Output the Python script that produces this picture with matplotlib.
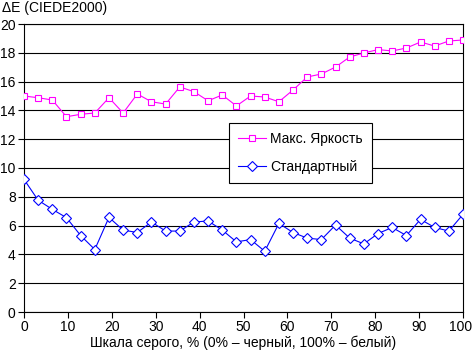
import numpy as np
import matplotlib.pyplot as plt
import matplotlib.transforms as mtransforms

plt.rcParams["font.family"] = ["Liberation Sans", "DejaVu Sans"]

# gray levels 0..100 %, 32 steps
gray = np.linspace(0, 100, 32)

max_bright = [15.0, 14.88, 14.72, 13.56, 13.73, 13.82, 14.88, 13.82, 15.14, 14.6,
              14.44, 15.63, 15.3, 14.67, 15.07, 14.31, 15.0, 14.93, 14.6, 15.42,
              16.32, 16.53, 17.01, 17.71, 17.99, 18.22, 18.13, 18.33, 18.75, 18.47,
              18.82, 18.89]
standard = [9.21, 7.76, 7.13, 6.55, 5.31, 4.34, 6.57, 5.69, 5.52, 6.25,
            5.62, 5.62, 6.25, 6.32, 5.69, 4.87, 5.03, 4.22, 6.15, 5.52,
            5.13, 5.03, 6.04, 5.13, 4.73, 5.45, 5.87, 5.31, 6.43, 5.87,
            5.62, 6.78]

fig = plt.figure(figsize=(4.73, 3.53), dpi=100)
ax = fig.add_axes([24 / 473, 1 - 312 / 353, 439 / 473, 288 / 353])

ax.plot(gray, max_bright, color="#FF00FF", lw=0.8, marker="s", ms=5,
        mfc="white", mec="#FF00FF", mew=0.8, label="Макс. Яркость", zorder=3)
ax.plot(gray, standard, color="#0000FF", lw=0.8, marker="D", ms=5,
        mfc="white", mec="#0000FF", mew=0.8, label="Стандартный", zorder=3)

ax.set_xlim(0, 100)
ax.set_ylim(0, 20)
ax.set_xticks(range(0, 101, 10))
ax.set_yticks(range(0, 21, 2))
ax.grid(axis="y", color="black", lw=0.8)
ax.set_axisbelow(True)
for s in ax.spines.values():
    s.set_linewidth(0.8)
ax.tick_params(direction="out", length=4, width=0.8, labelsize=10, pad=2)
ax.set_xlabel("Шкала серого, % (0% – черный, 100% – белый)", fontsize=10, labelpad=1)

# keep "100" inside the canvas
lbl = ax.get_xticklabels()[-1]
lbl.set_transform(lbl.get_transform() + mtransforms.ScaledTranslation(-2 / 100, 0, fig.dpi_scale_trans))

fig.text(2 / 473, 1 - 8 / 353, "ΔE (CIEDE2000)", fontsize=10, va="center", ha="left")

leg = ax.legend(loc="upper left", bbox_to_anchor=((229 - 24) / 439, (312 - 123) / 288),
                borderaxespad=0, fancybox=False, edgecolor="black", framealpha=1,
                fontsize=10, handlelength=2.0, handletextpad=0.3, borderpad=0.65,
                labelspacing=1.0)
leg.get_frame().set_linewidth(0.8)

fig.savefig("out.png", dpi=100)
